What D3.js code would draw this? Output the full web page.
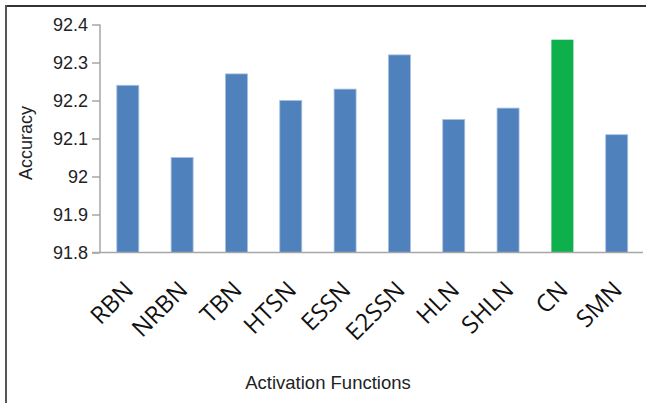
<!DOCTYPE html>
<html><head><meta charset="utf-8">
<script src="https://cdn.jsdelivr.net/npm/d3@7"></script>
<style>body{margin:0;background:#fff}svg{display:block}</style>
</head><body>
<svg id="c" width="646" height="403"></svg>
<script>
const categories = ["RBN","NRBN","TBN","HTSN","ESSN","E2SSN","HLN","SHLN","CN","SMN"];
const accuracy = [92.24, 92.05, 92.27, 92.20, 92.23, 92.32, 92.15, 92.18, 92.36, 92.11];
const highlight = ["CN"];
const yTicks = [91.8, 91.9, 92.0, 92.1, 92.2, 92.3, 92.4];
const yTickLabels = ["91.8","91.9","92","92.1","92.2","92.3","92.4"];

const svg = d3.select("#c");
// frame
svg.append("line").attr("x1",5).attr("x2",646).attr("y1",6).attr("y2",6).attr("stroke","#333").attr("stroke-width",2);
svg.append("line").attr("x1",6).attr("x2",6).attr("y1",5).attr("y2",403).attr("stroke","#555").attr("stroke-width",2);

const x = d3.scaleBand().domain(categories).range([100.5, 644]).paddingInner(0.595).paddingOuter(0.3);
const y = d3.scaleLinear().domain([91.8, 92.4]).range([252.5, 24.5]);

// bars
svg.append("g").selectAll("rect").data(categories).join("rect")
  .attr("x", d => x(d))
  .attr("width", x.bandwidth())
  .attr("y", (d,i) => y(accuracy[i]))
  .attr("height", (d,i) => y(91.8) - y(accuracy[i]))
  .attr("fill", d => highlight.includes(d) ? "#0DB04B" : "#4F81BD")
  .attr("stroke", d => highlight.includes(d) ? "none" : "#A7C0E0")
  .attr("stroke-width", 0.8);

// y axis
const yAxis = d3.axisLeft(y).tickValues(yTicks).tickFormat((d,i) => yTickLabels[i]).tickSize(8).tickPadding(4);
const gy = svg.append("g").attr("transform","translate(100,0)").call(yAxis);
gy.select(".domain").attr("stroke","#A6A6A6").attr("stroke-width",1.5).attr("d","M0,24.5V252.5");
gy.selectAll(".tick line").attr("stroke","#A6A6A6").attr("stroke-width",1.5);
gy.selectAll(".tick text").attr("font-family","'Liberation Sans', Arial, sans-serif").attr("font-size","18px").attr("fill","#222");

// x axis
const xAxis = d3.axisBottom(x).tickSize(0).tickPadding(0);
const gx = svg.append("g").attr("transform","translate(0,252.5)").call(xAxis);
gx.select(".domain").attr("stroke","#A6A6A6").attr("stroke-width",1.5).attr("d","M92,0H643");
gx.selectAll(".tick text")
  .attr("font-family","'Open Sans', sans-serif").attr("font-size","24px").attr("fill","#111")
  .attr("text-anchor","end")
  .attr("dy","0.35em")
  .attr("transform","translate(1,33) rotate(-45)");

// titles
svg.append("text").attr("transform","translate(32,143) rotate(-90)")
  .attr("text-anchor","middle").attr("font-family","'Liberation Sans', Arial, sans-serif")
  .attr("font-size","18px").attr("fill","#222").text("Accuracy");
svg.append("text").attr("x",328).attr("y",389)
  .attr("text-anchor","middle").attr("font-family","'Liberation Sans', Arial, sans-serif")
  .attr("font-size","18.5px").attr("fill","#222").text("Activation Functions");
</script>
</body></html>
